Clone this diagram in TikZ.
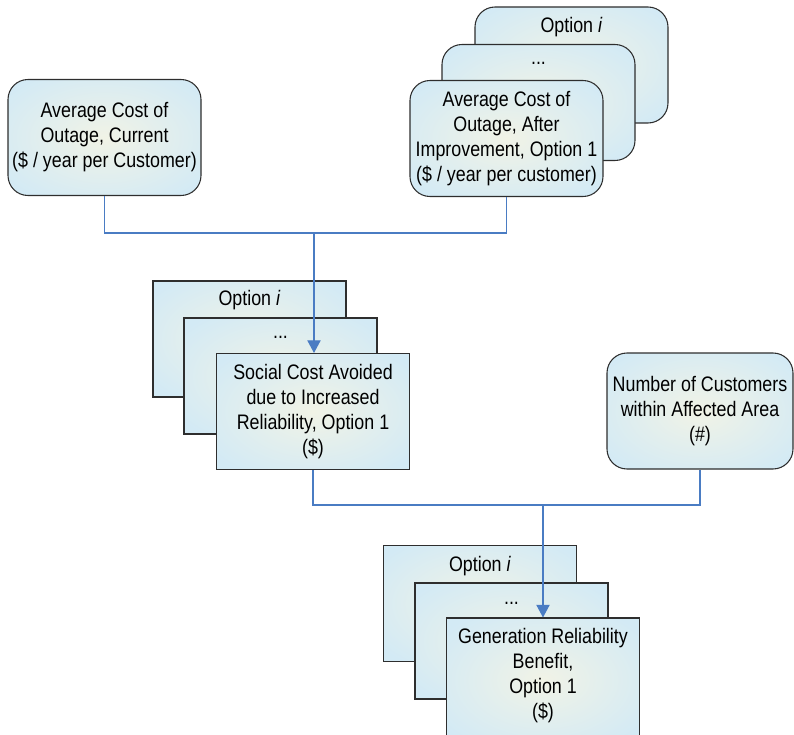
\documentclass[tikz,border=0pt]{standalone}
\usepackage{fontspec}
\setmainfont{Liberation Sans}[FakeStretch=0.85]
\usetikzlibrary{arrows.meta}

\definecolor{boxin}{HTML}{F1F3E6}
\definecolor{boxout}{HTML}{D3EAF5}
\definecolor{boxline}{HTML}{2E2E2E}
\definecolor{flow}{HTML}{4A7CC3}

\pgfdeclareradialshading{boxglow}{\pgfpoint{0bp}{0bp}}{%
  color(0bp)=(boxin); color(14bp)=(boxin!55!boxout); color(32bp)=(boxout); color(50bp)=(boxout)}

\tikzset{
  box/.style={draw=boxline, line width=0.8pt, shading=boxglow,
    minimum width=144.75pt, minimum height=87pt, inner sep=0pt},
  rbox/.style={box, rounded corners=15pt},
  txt/.style={align=center, inner sep=0pt,
    font=\fontsize{15.75}{18.75}\selectfont},
  link/.style={draw=flow, line width=0.8pt},
  arrowlink/.style={link, -{Triangle[width=10pt,length=9.5pt]}}
}

\begin{document}
\begin{tikzpicture}[x=0.75pt,y=-0.75pt]
\useasboundingbox (0,0) rectangle (794,735);
\begin{scope}
\clip (0,0) rectangle (794,735);

% current outage cost
\node[rbox] (A) at (104.5,137.5) {};
\node[txt] (At) at (A.center) {Average Cost of\\Outage, Current\\(\$ / year per Customer)};

% outage cost after improvement, stacked by option
\node[rbox] (Bi) at (571.5,65) {};
\node[txt] (Bit) at (571.5,27) {Option \textit{i}};
\node[rbox] (Bd) at (538.5,102.5) {};
\node[txt] (Bdt) at (538.5,63) {...};
\node[rbox] (B1) at (506.5,138.5) {};
\node[txt] (B1t) at (B1.center) {Average Cost of\\Outage, After\\Improvement, Option 1\\(\$ / year per customer)};

% social cost avoided, stacked by option
\node[box] (Ci) at (249.5,339) {};
\node[txt] (Cit) at (249.5,300) {Option \textit{i}};
\node[box] (Cd) at (280.5,376) {};
\node[txt] (Cdt) at (280.5,337) {...};
\node[box] (C1) at (313,411.5) {};
\node[txt] (C1t) at (C1.center) {Social Cost Avoided\\due to Increased\\Reliability, Option 1\\(\$)};

% number of customers
\node[rbox, minimum width=139.5pt] (D) at (700,411) {};
\node[txt] (Dt) at (D.center) {Number of Customers\\within Affected Area\\(\#)};

% generation reliability benefit, stacked by option (front box runs off the page)
\node[box] (Ei) at (480,603.5) {};
\node[txt] (Eit) at (480,566) {Option \textit{i}};
\node[box] (Ed) at (511.5,641) {};
\node[txt] (Edt) at (511.5,603) {...};
\node[box, minimum height=93pt] (E1) at (543,680) {};
\node[txt] (E1t) at (543,675.5) {Generation Reliability\\Benefit,\\Option 1\\(\$)};

% connectors
\coordinate (j1) at (314,233);
\coordinate (j2) at (543,505);
\draw[link] (A.south) |- (j1) -| (B1.south);
\draw[arrowlink] (j1) -- (C1.north -| j1);
\draw[link] (C1.south) |- (j2) -| (D.south);
\draw[arrowlink] (j2) -- (E1.north);
\end{scope}
\end{tikzpicture}
\end{document}
